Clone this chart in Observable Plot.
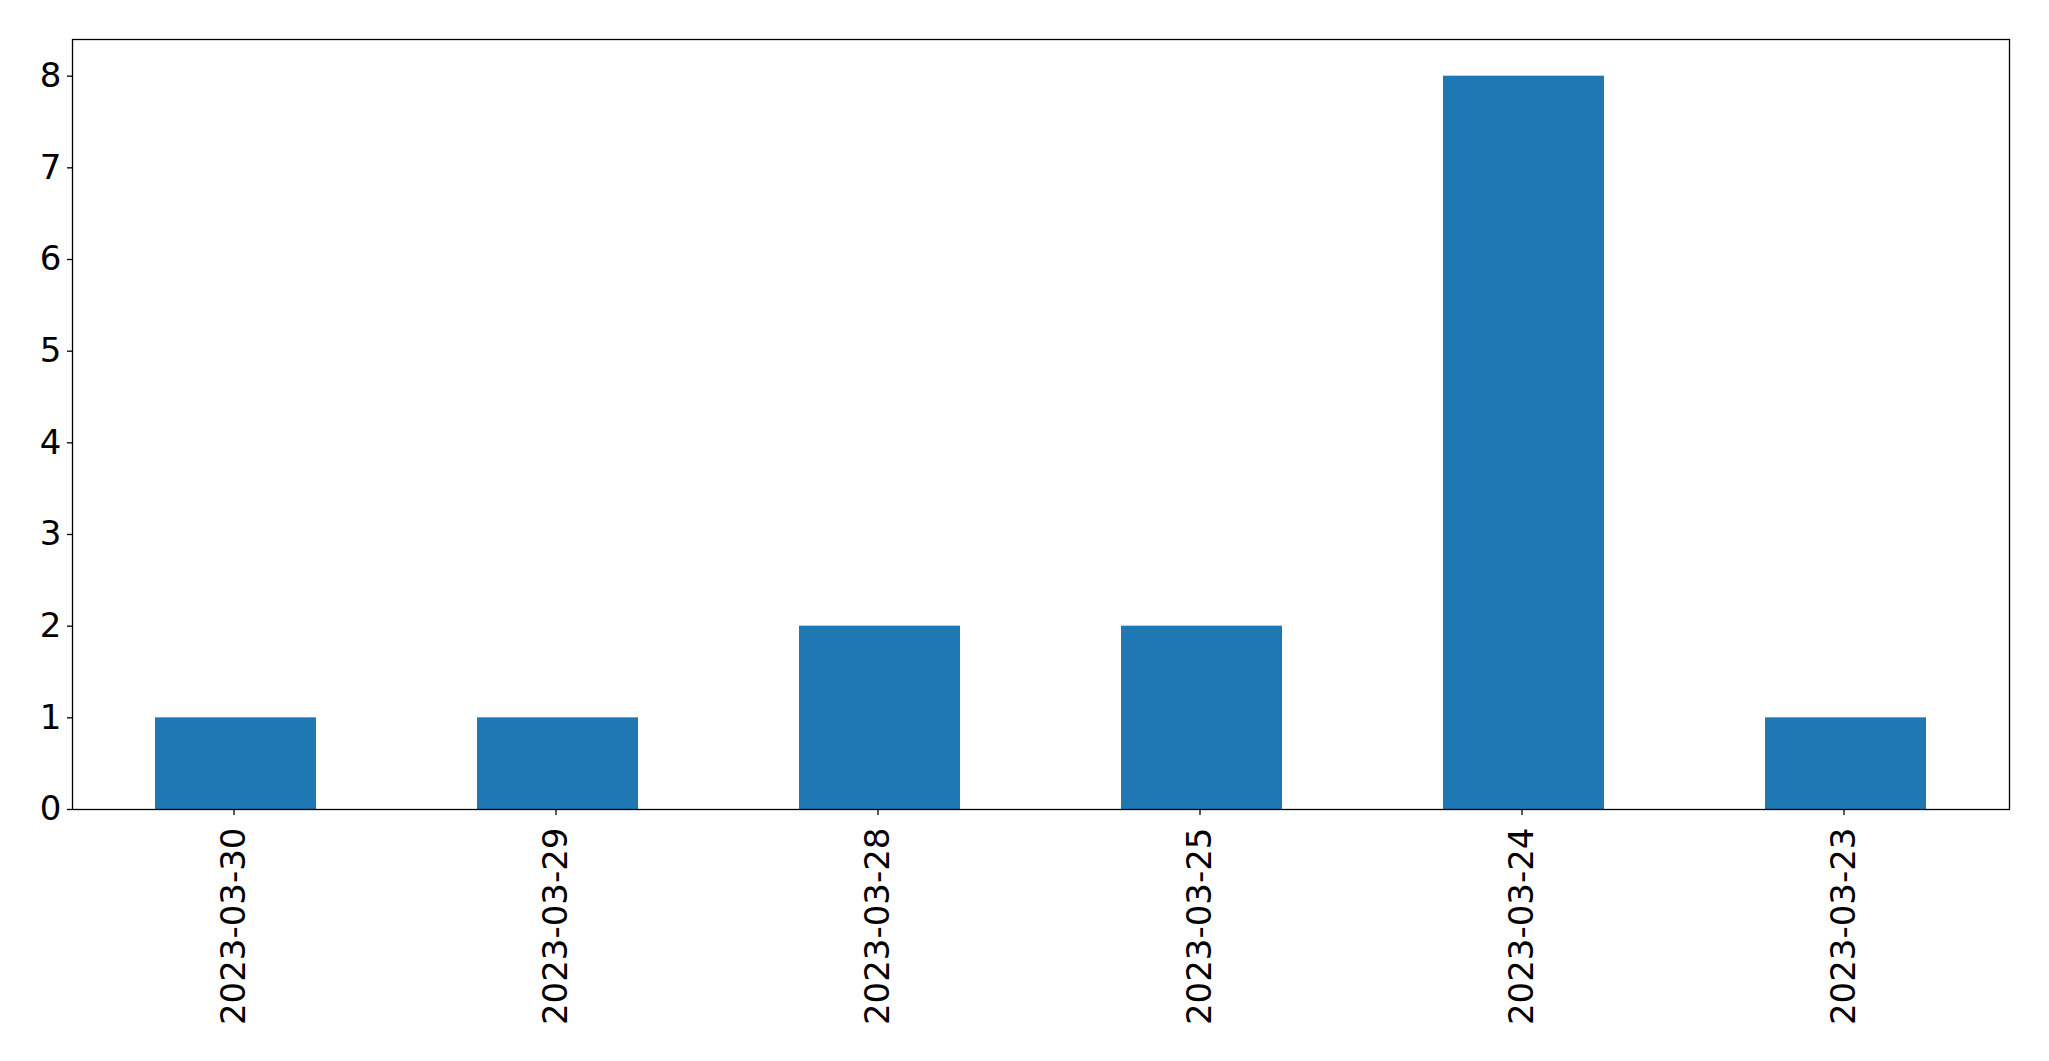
<!DOCTYPE html>
<html>
<head>
<meta charset="utf-8">
<script src="https://cdn.jsdelivr.net/npm/d3@7"></script>
<script src="https://cdn.jsdelivr.net/npm/@observablehq/plot@0.6"></script>
<style>
  html, body { margin: 0; padding: 0; background: #fff; }
  #chart svg { display: block; }
</style>
</head>
<body>
<div id="chart"></div>
<script>
const dates = ["2023-03-30", "2023-03-29", "2023-03-28", "2023-03-25", "2023-03-24", "2023-03-23"];
const counts = [1, 1, 2, 2, 8, 1];
const yTicks = [0, 1, 2, 3, 4, 5, 6, 7, 8];

const data = dates.map((d, i) => ({date: d, count: counts[i]}));

const chart = Plot.plot({
  width: 2049,
  height: 1061,
  marginLeft: 72,
  marginRight: 40,
  marginTop: 39,
  marginBottom: 252,
  style: {fontFamily: "DejaVu Sans", fontSize: "34px", color: "black", background: "white"},
  x: {type: "band", domain: dates, paddingInner: 0.5, paddingOuter: 0.25},
  y: {domain: [0, 8.4]},
  marks: [
    Plot.barY(data, {x: "date", y: "count", fill: "#1f77b4"}),
    Plot.axisY({ticks: yTicks, tickSize: 5, tickPadding: 6, fontSize: 34, label: null, strokeWidth: 1.3}),
    Plot.axisX({tickSize: 6, tickPadding: 12, tickRotate: -90, fontSize: 34, label: null, strokeWidth: 1.3, dx: -2}),
    Plot.frame({stroke: "black", strokeWidth: 1.3})
  ]
});
document.getElementById("chart").appendChild(chart);
</script>
</body>
</html>
